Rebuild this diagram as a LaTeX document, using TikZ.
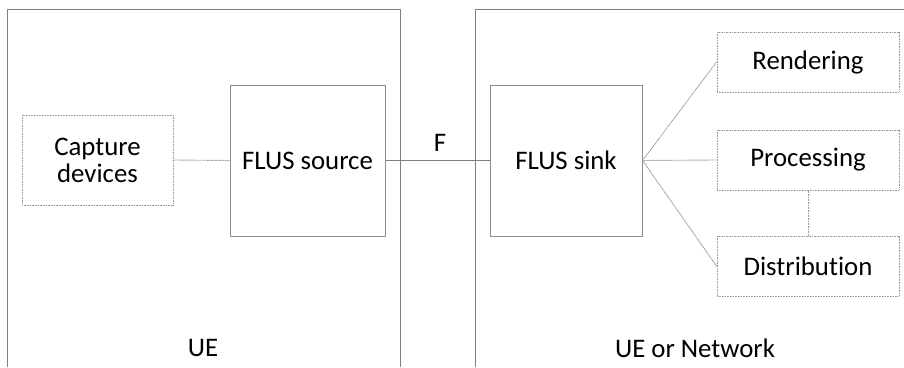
\documentclass[tikz,border=0pt]{standalone}
\usepackage{fontspec}
\setmainfont[Ligatures=NoCommon]{Carlito}
\begin{document}
\begin{tikzpicture}[x=1pt,y=-1pt,
  every node/.style={font=\fontsize{26.8}{31}\selectfont, inner sep=0pt, align=center},
  solidbox/.style={draw=black!45, line width=1pt},
  dotbox/.style={draw=black!40, line width=1pt, dash pattern=on 1pt off 0.6pt},
  solidline/.style={draw=black!50, line width=1pt},
  dotline/.style={draw=black!40, line width=0.9pt, dash pattern=on 1pt off 0.6pt},
  frame/.style={draw=black!50, line width=1pt}]
\useasboundingbox (0,0) rectangle (904,367);
% enclosing areas (open at the bottom / right)
\draw[frame] (7,367) -- (7,9) -- (400,9) -- (400,367);
\draw[frame] (475,367) -- (475,9) -- (904,9);
% functional blocks
\node[dotbox, minimum width=151pt, minimum height=90pt] (cap) at (97.5,160) {Capture\\[-4pt]devices};
\node[solidbox, minimum width=155pt, minimum height=151pt] (src) at (307.5,160.5) {FLUS source};
\node[solidbox, minimum width=152pt, minimum height=151pt] (sink) at (566,160.5) {FLUS sink};
\node[dotbox, minimum width=182pt, minimum height=60pt] (rend) at (808,62) {Rendering};
\node[dotbox, minimum width=182pt, minimum height=60pt] (proc) at (808,160) {Processing};
\node[dotbox, minimum width=182pt, minimum height=60pt] (dist) at (808,266) {Distribution};
% connections
\draw[dotline] (cap.east) -- (src.west);
\draw[solidline] (src.east) -- (sink.west);
\draw[dotline] (sink.east) -- (rend.west);
\draw[dotline] (sink.east) -- (proc.west);
\draw[dotline] (sink.east) -- (dist.west);
\draw[dotline] (proc.south) -- (dist.north);
% labels
\node (f) at (440,143) {F};
\node (ue) at (203,348) {UE};
\node (uen) at (695,348) {UE or Network};
\end{tikzpicture}
\end{document}
